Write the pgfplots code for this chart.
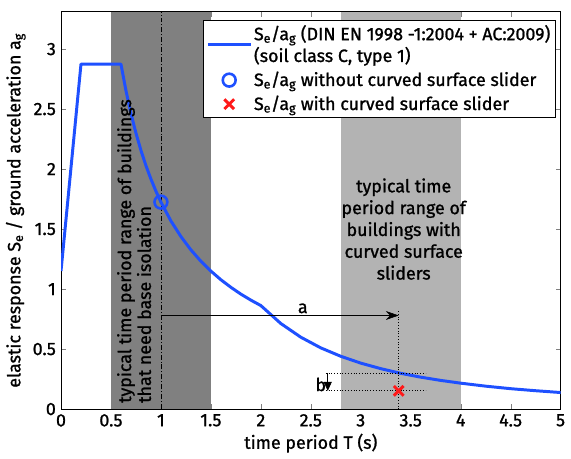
\documentclass[border=0pt]{standalone}
\usepackage{pgfplots}
\pgfplotsset{compat=1.18}
\usepackage{fontspec}
\setmainfont{Fira Sans}[FakeBold=1.1]
\usetikzlibrary{arrows.meta}
\definecolor{specblue}{RGB}{30,80,255}
\definecolor{xred}{RGB}{255,25,25}
\definecolor{darkband}{RGB}{128,128,128}
\definecolor{lightband}{RGB}{179,179,179}
\newcommand{\Sa}{S\textsubscript{e}/a\textsubscript{g}}
\pgfplotsset{
  longline legend/.style={legend image code/.code={\draw[##1] (0pt,0pt) -- (43pt,0pt);}},
  mark legend/.style={legend image code/.code={\draw[##1] plot coordinates {(21.5pt,0pt)};}},
}

\begin{document}
\fontsize{18}{21}\selectfont
\begin{tikzpicture}
\begin{axis}[
  scale only axis, width=504pt, height=400.7pt,
  xmin=0, xmax=5, ymin=0, ymax=3.31,
  xtick={0,0.5,...,5}, ytick={0,0.5,...,3},
  tick align=inside, major tick length=5pt,
  xtick pos=both, ytick pos=both,
  /pgf/number format/assume math mode=true,
  tick label style={font=\fontsize{18}{20}\selectfont},
  label style={font=\fontsize{18}{20}\selectfont},
  xticklabel style={yshift=1pt}, yticklabel style={xshift=1pt},
  xlabel={time period T (s)},
  ylabel={elastic response S\textsubscript{e} / ground acceleration a\textsubscript{g}},
  xlabel style={yshift=5pt}, ylabel style={yshift=-5pt},
  axis line style={line width=0.8pt},
  legend style={at={(rel axis cs:0.99,0.98)}, anchor=north east, draw=black,
    line width=0.6pt, fill=white, font=\fontsize{18}{22}\selectfont,
    cells={anchor=west, align=left}, row sep=3pt, inner xsep=3pt, inner ysep=3pt},
]
% shaded period ranges
\addplot[fill=darkband, draw=none, forget plot] coordinates {(0.5,0)(1.5,0)(1.5,3.31)(0.5,3.31)} -- cycle;
\addplot[fill=lightband, draw=none, forget plot] coordinates {(2.8,0)(4.0,0)(4.0,3.31)(2.8,3.31)} -- cycle;
\draw[line width=0.5pt, dash pattern=on 5pt off 2pt on 1pt off 2pt] (axis cs:1,0) -- (axis cs:1,3.31);

% spectrum
\addplot[specblue, line width=3pt, line join=round, longline legend] coordinates {
  (0,1.15)(0.2,2.875)(0.6,2.875)(0.65,2.654)(0.7,2.464)(0.75,2.3)(0.8,2.156)
  (0.85,2.029)(0.9,1.917)(0.95,1.816)(1.0,1.725)(1.1,1.568)(1.2,1.438)(1.3,1.327)
  (1.4,1.232)(1.5,1.15)(1.6,1.078)(1.7,1.015)(1.8,0.958)(1.9,0.908)(2.0,0.8625)
  (2.2,0.713)(2.4,0.599)(2.6,0.510)(2.8,0.440)(3.0,0.383)(3.2,0.337)(3.4,0.298)
  (3.6,0.266)(3.8,0.239)(4.0,0.216)(4.25,0.191)(4.5,0.170)(4.75,0.153)(5.0,0.138)};
\addlegendentry{\Sa{} (DIN EN 1998 -1:2004 + AC:2009)\\(soil class C, type 1)}

\addplot[only marks, mark=o, mark size=6.5pt, specblue, line width=2.6pt, mark legend] coordinates {(1,1.725)};
\addlegendentry{\Sa{} without curved surface slider}

% annotations a and b
\draw[line width=0.6pt, -{Stealth[length=13pt,width=9pt]}] (axis cs:1,0.78) -- (axis cs:3.38,0.78);
\node[anchor=south, inner sep=2pt] at (axis cs:2.42,0.78) {a};
\draw[line width=0.8pt, dotted] (axis cs:3.38,0) -- (axis cs:3.38,0.83);
\draw[line width=0.8pt, dotted] (axis cs:2.65,0.30) -- (axis cs:3.65,0.30);
\draw[line width=0.8pt, dotted] (axis cs:2.65,0.152) -- (axis cs:3.65,0.152);
\draw[line width=0.6pt, -{Triangle[length=9pt,width=8pt]}] (axis cs:2.67,0.30) -- (axis cs:2.67,0.152);
\node[anchor=east, inner sep=0.5pt] at (axis cs:2.66,0.205) {b};

\addplot[only marks, mark=x, mark size=7pt, xred, line width=3pt, mark legend] coordinates {(3.38,0.152)};
\addlegendentry{\Sa{} with curved surface slider}

% band texts
\node[rotate=90, anchor=north west, align=left, inner sep=0pt, font=\fontsize{18}{20}\selectfont]
  at (axis cs:0.56,0.05) {typical time period range of buildings\\that need base isolation};
\node[align=center, inner sep=0pt, font=\fontsize{18}{22}\selectfont]
  at (axis cs:3.43,1.50) {typical time\\period range of\\buildings with\\curved surface\\sliders};

\coordinate (tl) at (rel axis cs:0,1);
\coordinate (br) at (rel axis cs:1,0);
\end{axis}
\path ([shift={(-59pt,12pt)}]tl) rectangle ([shift={(8pt,-45.3pt)}]br);
\end{tikzpicture}
\end{document}
